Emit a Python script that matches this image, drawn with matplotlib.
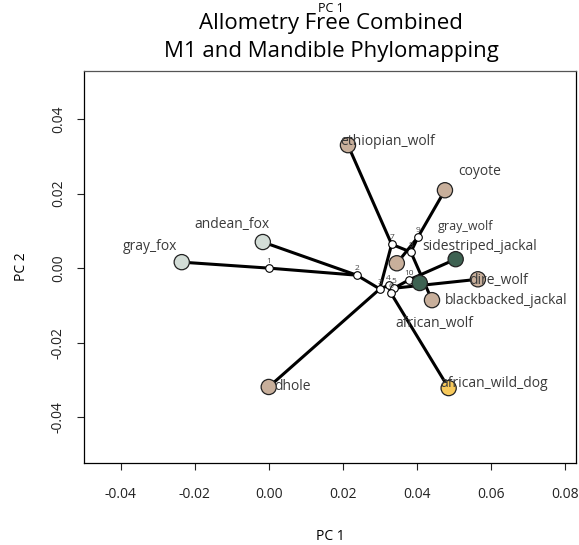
import matplotlib
matplotlib.use("Agg")
import matplotlib.pyplot as plt

plt.rcParams['font.family'] = ['Open Sans', 'DejaVu Sans']

# tip species, PC1 / PC2 scores and group colour
tip_names = ['gray_fox', 'andean_fox', 'dhole', 'african_wild_dog', 'ethiopian_wolf',
             'coyote', 'gray_wolf', 'african_wolf', 'dire_wolf',
             'sidestriped_jackal', 'blackbacked_jackal']
tip_pc1 = [-0.0235, -0.0016, 0.0000, 0.0486, 0.0214, 0.0476, 0.0346, 0.0441, 0.0565, 0.0505, 0.0408]
tip_pc2 = [0.0016, 0.0070, -0.0319, -0.0322, 0.0330, 0.0209, 0.0013, -0.0086, -0.0030, 0.0024, -0.0040]
tip_colors = ['#D3DDD7', '#D3DDD7', '#C8AF9B', '#F7C95B', '#C8AF9B',
              '#C8AF9B', '#C8AF9B', '#C8AF9B', '#C8AF9B', '#3E6252', '#3E6252']

# where each tip label sits (pc1, pc2 of left edge)
label_pc1 = [-0.0395, -0.0200, 0.0016, 0.0465, 0.0192, 0.0511, 0.0457, 0.0341, 0.0543, 0.0414, 0.0476]
label_pc2 = [0.0059, 0.0118, -0.0319, -0.0309, 0.0339, 0.0258, 0.0113, -0.0148, -0.0032, 0.0059, -0.0086]
label_size = [10, 10, 10, 10, 10, 10, 9, 10, 10, 10, 10]

# reconstructed ancestral states (internal nodes 1..10)
node_ids = ['1', '2', '3', '4', '5', '6', '7', '8', '9', '10']
node_pc1 = [0.0000, 0.0238, 0.0300, 0.0324, 0.0338, 0.0330, 0.0332, 0.0384, 0.0403, 0.0378]
node_pc2 = [0.0000, -0.0019, -0.0056, -0.0046, -0.0054, -0.0067, 0.0064, 0.0043, 0.0083, -0.0032]

# tree branches (parent -> child)
edges = [('1', 'gray_fox'), ('1', '2'), ('2', 'andean_fox'), ('2', '3'),
         ('3', 'dhole'), ('3', '7'), ('3', '4'), ('4', '5'), ('4', '6'),
         ('6', 'african_wild_dog'), ('5', 'dire_wolf'), ('5', '10'),
         ('10', 'sidestriped_jackal'), ('10', 'blackbacked_jackal'),
         ('7', 'ethiopian_wolf'), ('7', '8'), ('8', 'african_wolf'), ('8', '9'),
         ('9', 'coyote'), ('9', 'gray_wolf')]

pos = {}
for n, x, y in zip(tip_names, tip_pc1, tip_pc2):
    pos[n] = (x, y)
for n, x, y in zip(node_ids, node_pc1, node_pc2):
    pos[n] = (x, y)

fig = plt.figure(figsize=(5.79, 5.45), dpi=100)
ax = fig.add_axes([0.1451, 0.1505, 0.8497, 0.7192])

for a, b in edges:
    ax.plot([pos[a][0], pos[b][0]], [pos[a][1], pos[b][1]], color='black',
            lw=2.2, zorder=1, solid_capstyle='butt')

ax.scatter(node_pc1, node_pc2, s=30, facecolor='white', edgecolor='black',
           linewidth=0.8, zorder=3)
for n, x, y in zip(node_ids, node_pc1, node_pc2):
    ax.annotate(n, (x, y), xytext=(0, 2), textcoords='offset points',
                fontsize=6, color='#444444', ha='center', va='bottom', zorder=4)

ax.scatter(tip_pc1, tip_pc2, s=120, c=tip_colors, edgecolor='#222222',
           linewidth=0.9, zorder=3)
for n, x, y, fs in zip(tip_names, label_pc1, label_pc2, label_size):
    ax.text(x, y, n, fontsize=fs, color='#3a3a3a', ha='left', va='center', zorder=5)

ax.set_xlim(-0.0499, 0.0830)
ax.set_ylim(-0.0523, 0.0529)
ax.set_xticks([-0.04, -0.02, 0.00, 0.02, 0.04, 0.06, 0.08])
ax.set_yticks([-0.04, -0.02, 0.00, 0.02, 0.04])
ax.set_xticklabels(['-0.04', '-0.02', '0.00', '0.02', '0.04', '0.06', '0.08'])
ax.set_yticklabels(['-0.04', '-0.02', '0.00', '0.02', '0.04'], rotation=90, va='center')
ax.tick_params(length=5, width=0.8, pad=8, labelsize=10, colors='#222222')
ax.tick_params(axis='x', pad=12)
for s in ax.spines.values():
    s.set_linewidth(0.9)
ax.spines['top'].set_color('#555555')

ax.set_xlabel('PC 1', fontsize=10, labelpad=20)
ax.set_ylabel('PC 2', fontsize=10, labelpad=16)

fig.text(0.572, 1 - 8 / 545, 'PC 1', fontsize=9, ha='center', va='center')
fig.text(0.572, 1 - 23 / 545, 'Allometry Free Combined', fontsize=16,
         ha='center', va='center')
fig.text(0.572, 1 - 52 / 545, 'M1 and Mandible Phylomapping', fontsize=16,
         ha='center', va='center')

fig.savefig('out.png', dpi=100)
